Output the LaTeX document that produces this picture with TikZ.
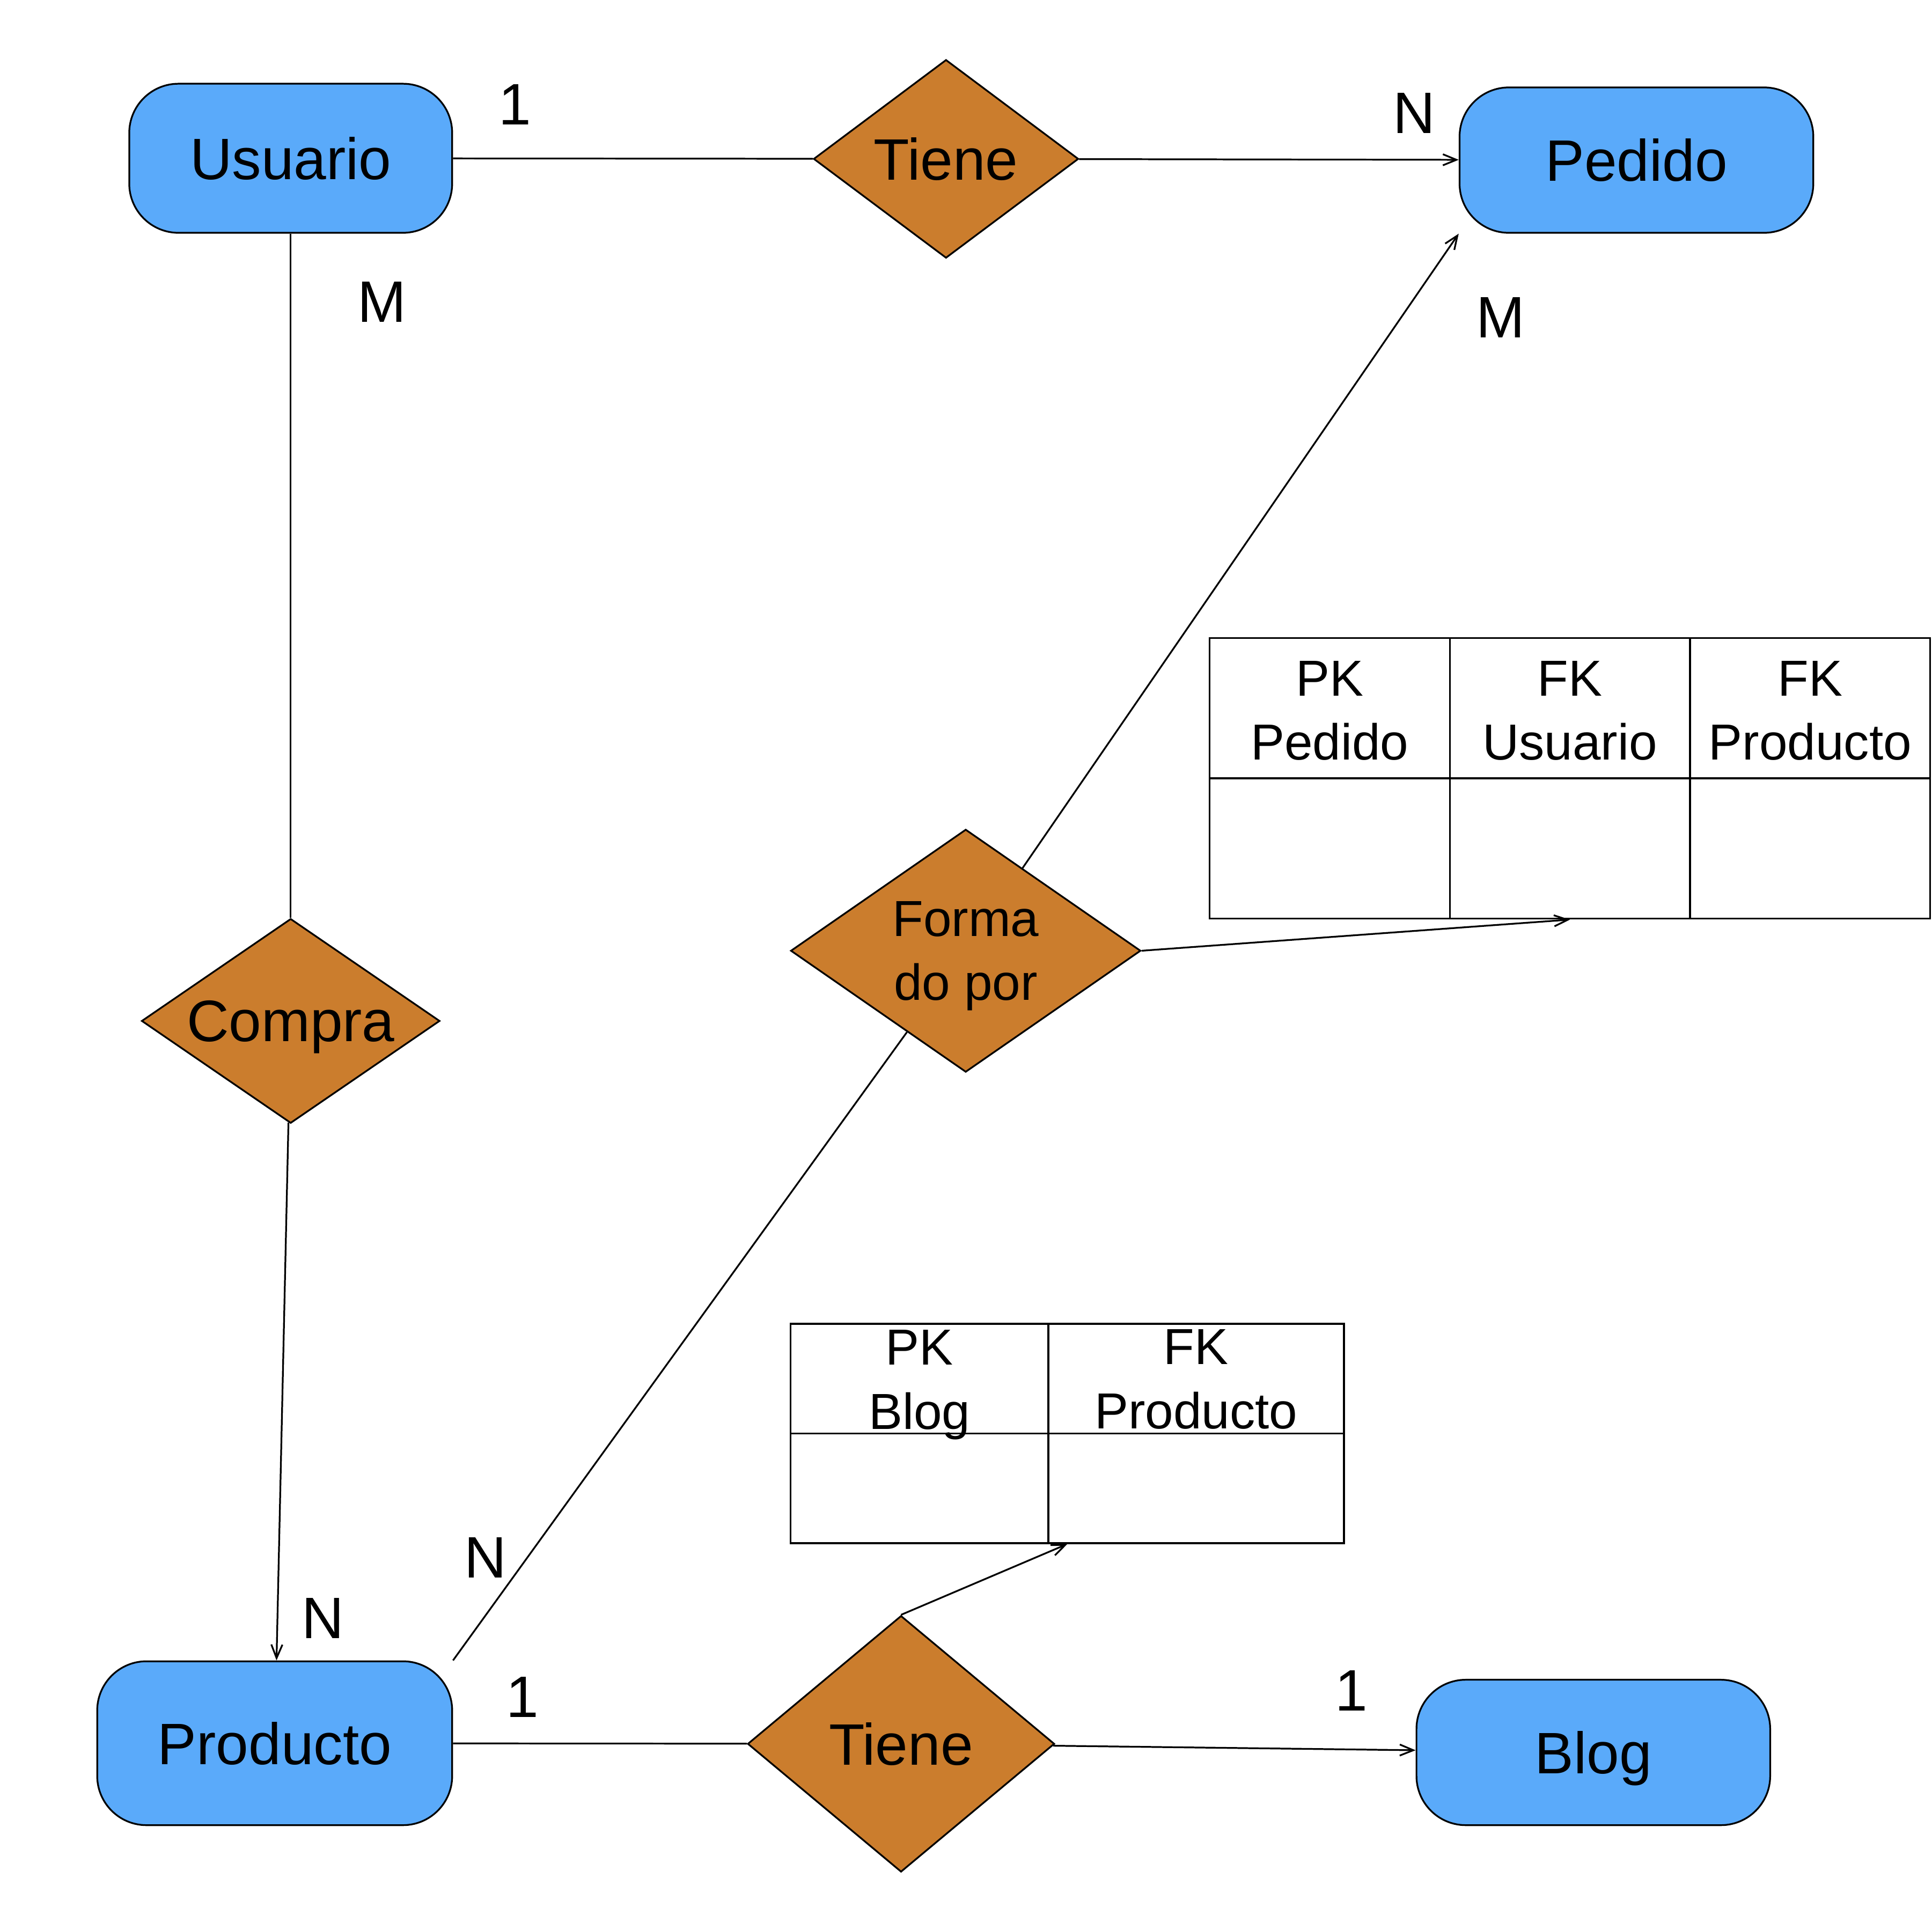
\documentclass[tikz,border=0pt]{standalone}
\usepackage{fontspec}
\setmainfont{Liberation Sans}
\usepackage{xcolor}
\usepackage{tikz}
\usetikzlibrary{arrows.meta}
\usetikzlibrary{shapes.geometric}
\usetikzlibrary{calc}

\definecolor{azul}{RGB}{90,170,250}
\definecolor{ocre}{RGB}{203,125,45}

\begin{document}
\begin{tikzpicture}[x=0.01cm,y=-0.01cm,-,thin,>={Straight Barb[length=1.1mm,width=0.9mm]}]
 	\tikzstyle{entidad}=[draw=black, fill=azul, rounded corners=0.4cm, inner sep=0pt, text depth=0pt, font=\fontsize{13.5}{16}\selectfont]
 	\tikzstyle{relacion}=[diamond, draw=black, fill=ocre, inner sep=0pt, text depth=0pt, font=\fontsize{13.5}{16}\selectfont]
 	\tikzstyle{celda}=[draw=black, inner sep=0pt]
 	\tikzstyle{campo}=[inner sep=0pt, align=center, font=\fontsize{11.7}{14.8}\selectfont]
 	\tikzstyle{card}=[inner sep=0pt, font=\fontsize{13.5}{16}\selectfont]
 	\useasboundingbox (0,0) rectangle (1568,1568);
 	% entidades
 	\node[entidad, minimum width=2.62cm, minimum height=1.21cm] (usu)  at (236,128.5)   {Usuario};
 	\node[entidad, minimum width=2.87cm, minimum height=1.18cm] (ped)  at (1328.5,130)  {Pedido};
 	\node[entidad, minimum width=2.88cm, minimum height=1.33cm] (prod) at (223,1415.5)  {Producto};
 	\node[entidad, minimum width=2.87cm, minimum height=1.18cm] (blog) at (1293.5,1423) {Blog};
 	% relaciones
 	\node[relacion, aspect=1.34, minimum width=2.15cm, minimum height=1.61cm] (tiene1) at (768,129)  {Tiene};
 	\node[relacion, aspect=1.46, minimum width=2.42cm, minimum height=1.66cm] (compra) at (236,829)  {Compra};
 	\node[relacion, aspect=1.44, minimum width=2.84cm, minimum height=1.97cm, align=center, font=\fontsize{11.7}{14.8}\selectfont] (forma) at (784,772) {Forma\\do por};
 	\node[relacion, aspect=1.2, minimum width=2.49cm, minimum height=2.08cm] (tiene2) at (731.5,1416) {Tiene};
 	% tabla pedido
 	\node[celda, minimum width=1.95cm, minimum height=1.14cm] (tp1) at (1079.5,575) {};
 	\node[celda, minimum width=1.95cm, minimum height=1.14cm] (tp2) at (1274.5,575) {};
 	\node[celda, minimum width=1.95cm, minimum height=1.14cm] (tp3) at (1469.5,575) {};
 	\node[celda, minimum width=1.95cm, minimum height=1.14cm] (tp4) at (1079.5,689) {};
 	\node[celda, minimum width=1.95cm, minimum height=1.14cm] (tp5) at (1274.5,689) {};
 	\node[celda, minimum width=1.95cm, minimum height=1.14cm] (tp6) at (1469.5,689) {};
 	\node[campo] (tp1t) at (1079.5,577) {PK\\Pedido};
 	\node[campo] (tp2t) at (1274.5,577) {FK\\Usuario};
 	\node[campo] (tp3t) at (1469.5,577) {FK\\Producto};
 	% tabla blog
 	\node[celda, minimum width=2.09cm, minimum height=0.89cm] (tb1) at (746.5,1119.5) {};
 	\node[celda, minimum width=2.40cm, minimum height=0.89cm] (tb2) at (971,1119.5)   {};
 	\node[celda, minimum width=2.09cm, minimum height=0.89cm] (tb3) at (746.5,1208.5) {};
 	\node[celda, minimum width=2.40cm, minimum height=0.89cm] (tb4) at (971,1208.5)   {};
 	\node[campo] (tb1t) at (746.5,1124.5) {PK\\Blog};
 	\node[campo] (tb2t) at (971,1120)     {FK\\Producto};
 	% cardinalidades
 	\node[card] (c1) at (418,85)    {1};
 	\node[card] (c2) at (1148,92)   {N};
 	\node[card] (c3) at (310,245)   {M};
 	\node[card] (c4) at (1218,258)  {M};
 	\node[card] (c5) at (262,1314)  {N};
 	\node[card] (c6) at (394,1265)  {N};
 	\node[card] (c7) at (424,1378)  {1};
 	\node[card] (c8) at (1097,1373) {1};
 	\path
 		(usu) edge (compra)
 		(usu) edge (tiene1)
 		(tiene1) edge [->] (ped)
 		(compra) edge [->] (prod)
 		(prod.north east) edge (forma)
 		(forma) edge [->] (ped.south west)
 		(forma.east) edge [->] (tp5.south)
 		(prod) edge (tiene2)
 		(tiene2) edge [->] (blog)
 		(tiene2.north) edge [->] ($(tb3.south west)!0.5!(tb4.south east)$);
\end{tikzpicture}
\end{document}
